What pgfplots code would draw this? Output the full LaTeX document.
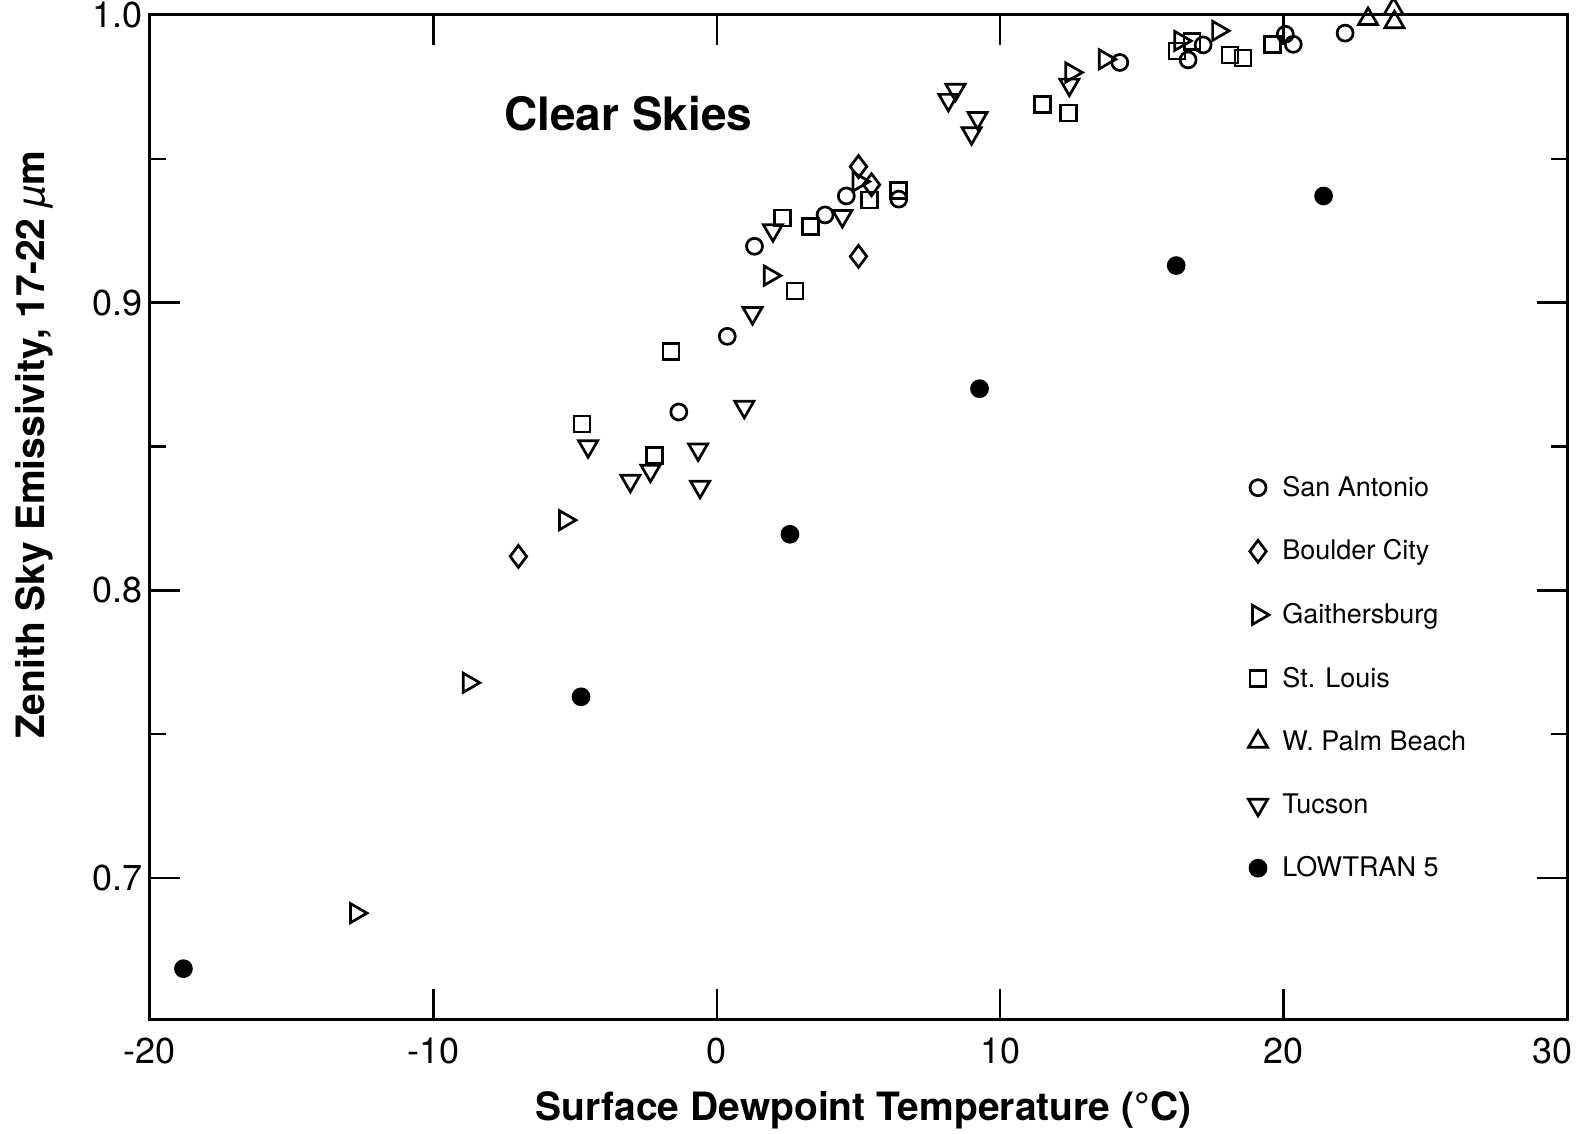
\documentclass[border=0pt]{standalone}
\usepackage{pgfplots}
\pgfplotsset{compat=1.18}
\usepackage{fontspec}
\setmainfont{TeX Gyre Heros}
\begin{document}
\begin{tikzpicture}
\begin{axis}[
  name=ax,
  scale only axis,
  width=708.5pt, height=502pt,
  xmin=-20, xmax=30, ymin=0.651, ymax=1.0,
  clip=false,
  axis line style={line width=1.5pt},
  xtick={-20,-10,0,10,20,30},
  xticklabels={-20,-10,0,10,20,\hspace*{-15pt}30},
  ytick={0.7,0.8,0.9,1.0},
  minor ytick={0.75,0.85,0.95},
  yticklabels={0.7,0.8,0.9,1.0},
  tick align=inside,
  major tick length=15pt,
  minor tick length=8pt,
  every tick/.style={black, line width=1.2pt},
  xtick pos=both, ytick pos=both,
  xticklabel pos=bottom, yticklabel pos=left,
  /pgf/number format/assume math mode=true,
  ticklabel style={font=\fontsize{18}{20}\selectfont},
  xticklabel style={yshift=-6pt},
  xlabel={\bfseries Surface Dewpoint Temperature (°C)},
  ylabel={\bfseries Zenith Sky Emissivity, 17-22 {\mdseries\itshape µ}m},
  label style={font=\fontsize{19.5}{22}\selectfont},
  xlabel style={yshift=-7pt, xshift=2.5pt},
  ylabel style={xshift=36pt, yshift=13pt},
  pt/.style={only marks, line width=1.35pt,
    legend image code/.code={\draw[mark repeat=2,mark phase=2,##1] plot coordinates {(0pt,0pt)(0pt,0pt)(0pt,0pt)}; \path (0pt,0pt) (10.5pt,0pt);}},
  legend style={at={(rel axis cs:0.7707,0.3397)}, anchor=west, draw=none, fill=none,
    font=\fontsize{13.5}{16}\selectfont, row sep=18.2pt,
    nodes={inner sep=1pt}},
  legend cell align=left,
]
% San Antonio
\addplot[pt, mark=o, mark size=4pt] coordinates {
(1.33,0.9196) (0.37,0.8883) (-1.34,0.8620) (3.82,0.9305) (4.57,0.9371) (6.42,0.9360)
(14.22,0.9835) (16.63,0.9844) (17.16,0.9896) (20.06,0.9933) (20.34,0.9898) (22.17,0.9937)};
\addlegendentry{San Antonio}
% Boulder City
\addplot[pt, mark=diamond, mark size=5.5pt] coordinates {
(-7.00,0.8118) (5.00,0.9473) (5.46,0.9410) (5.00,0.9161)};
\addlegendentry{Boulder City}
% Gaithersburg
\addplot[pt, mark=triangle, mark size=5.5pt, mark options={rotate=-90}] coordinates {
(-12.73,0.6878) (-8.75,0.7679) (-5.36,0.8244) (1.87,0.9094) (5.00,0.9421)
(12.51,0.9800) (13.69,0.9846) (16.35,0.9910) (17.69,0.9945)};
\addlegendentry{Gaithersburg}
% St. Louis
\addplot[pt, mark=square, mark size=4pt] coordinates {
(-4.76,0.8578) (-1.62,0.8831) (-2.19,0.8469) (2.33,0.9294) (3.30,0.9266) (2.76,0.9041)
(5.39,0.9357) (6.40,0.9389) (11.48,0.9688) (12.41,0.9659) (16.24,0.9875) (16.77,0.9907)
(18.11,0.9861) (18.57,0.9851) (19.60,0.9898)};
\addlegendentry{St. Louis}
% W. Palm Beach
\addplot[pt, mark=triangle, mark size=5.5pt] coordinates {
(22.98,0.9986) (23.88,1.0021) (23.91,0.9975)};
\addlegendentry{W. Palm Beach}
% Tucson
\addplot[pt, mark=triangle, mark size=5.5pt, mark options={rotate=180}] coordinates {
(-4.54,0.8501) (-3.05,0.8381) (-2.34,0.8416) (-0.66,0.8490) (-0.59,0.8360) (0.97,0.8638)
(1.26,0.8964) (1.98,0.9252) (4.43,0.9301) (8.17,0.9705) (8.42,0.9740) (8.99,0.9589)
(9.20,0.9642) (12.44,0.9758)};
\addlegendentry{Tucson}
% LOWTRAN 5
\addplot[pt, mark=*, mark size=4pt] coordinates {
(-18.82,0.6685) (-4.79,0.7630) (2.58,0.8195) (9.27,0.8701) (16.21,0.9129) (21.41,0.9371)};
\addlegendentry{LOWTRAN 5}
\node[font=\fontsize{23}{26}\selectfont\bfseries] at (axis cs:-3.12,0.9656) {Clear Skies};
\end{axis}
\pgfresetboundingbox
\path ([shift={(-75pt,-57pt)}]ax.south west) rectangle ([shift={(7.5pt,7.5pt)}]ax.north east);
\end{tikzpicture}
\end{document}
